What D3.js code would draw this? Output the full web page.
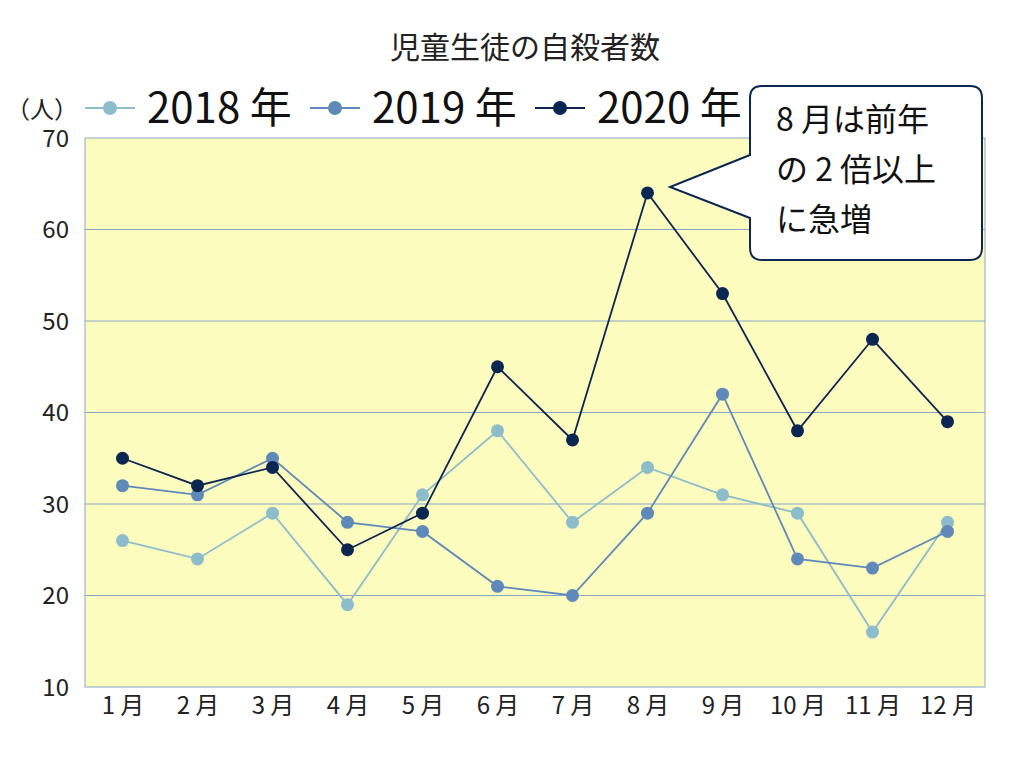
<!DOCTYPE html>
<html><head><meta charset="utf-8">
<script src="https://cdn.jsdelivr.net/npm/d3@7"></script>
<style>body{margin:0;background:#fff}text{font-family:"Noto Sans CJK JP",sans-serif}</style>
</head><body>
<svg id="c" width="1024" height="768"></svg>
<script>
var months = ["1 月","2 月","3 月","4 月","5 月","6 月","7 月","8 月","9 月","10 月","11 月","12 月"];
var yTicks = [10,20,30,40,50,60,70];
var s2018 = [26,24,29,19,31,38,28,34,31,29,16,28];
var s2019 = [32,31,35,28,27,21,20,29,42,24,23,27];
var s2020 = [35,32,34,25,29,45,37,64,53,38,48,39];
var series = [
    {name:"2018 年", values:s2018, color:"#8dbccb"},
    {name:"2019 年", values:s2019, color:"#5f89b8"},
    {name:"2020 年", values:s2020, color:"#0c2652"}
];

var svg = d3.select("#c");
var x = d3.scalePoint().domain(months).range([85,985]).padding(0.5);
var y = d3.scaleLinear().domain([10,70]).range([687,138]);

svg.append("rect").attr("x",85).attr("y",138).attr("width",900).attr("height",549)
    .attr("fill","#fdfcbf").attr("stroke","#8aa6c4");
svg.selectAll("line.grid").data(yTicks.slice(1,-1)).enter().append("line")
    .attr("x1",85).attr("x2",985).attr("y1",y).attr("y2",y)
    .attr("stroke","#8aa6c4").attr("stroke-width",1);

var ya = svg.append("g").attr("transform","translate(85,0)")
    .call(d3.axisLeft(y).tickValues(yTicks).tickSize(0).tickPadding(16));
ya.select(".domain").remove();
ya.selectAll("text").attr("font-size",24).attr("fill","#222").attr("dy","0.35em")
    .attr("font-family","Noto Sans, sans-serif");
var xa = svg.append("g").attr("transform","translate(0,687)")
    .call(d3.axisBottom(x).tickSize(0).tickPadding(10));
xa.select(".domain").remove();
xa.selectAll("text").attr("font-size",24).attr("fill","#222");

var line = d3.line().x(function(d,i){return x(months[i]);}).y(function(d){return y(d);});
series.forEach(function(s){
    svg.append("path").datum(s.values).attr("d",line).attr("fill","none")
        .attr("stroke",s.color).attr("stroke-width",1.8);
    svg.selectAll(null).data(s.values).enter().append("circle")
        .attr("cx",function(d,i){return x(months[i]);}).attr("cy",y).attr("r",6.5)
        .attr("fill",s.color);
});

svg.append("text").attr("x",525).attr("y",58).attr("text-anchor","middle")
    .attr("font-size",30).attr("fill","#222").text("児童生徒の自殺者数");
svg.append("text").attr("x",6).attr("y",118).attr("font-size",24).attr("fill","#222").text("（人）");

var lx = [85,310,535];
series.forEach(function(s,i){
    var g = svg.append("g").attr("transform","translate("+lx[i]+",108)");
    g.append("line").attr("x1",0).attr("x2",50).attr("stroke",s.color).attr("stroke-width",2);
    g.append("circle").attr("cx",25).attr("r",7).attr("fill",s.color);
    g.append("text").attr("x",62).attr("y",15).attr("font-size",42).attr("fill","#111")
        .attr("font-family","Noto Sans, sans-serif").text(s.name);
});

svg.append("path")
    .attr("d","M762,86 H970 Q982,86 982,98 V248 Q982,260 970,260 H762 Q750,260 750,248 V218 L670,187 L750,155 V98 Q750,86 762,86 Z")
    .attr("fill","#fff").attr("stroke","#0c2652").attr("stroke-width",2);
["8 月は前年","の 2 倍以上","に急増"].forEach(function(t,i){
    svg.append("text").attr("x",776).attr("y",131+i*50).attr("font-size",32).attr("fill","#111").text(t);
});
</script>
</body></html>
